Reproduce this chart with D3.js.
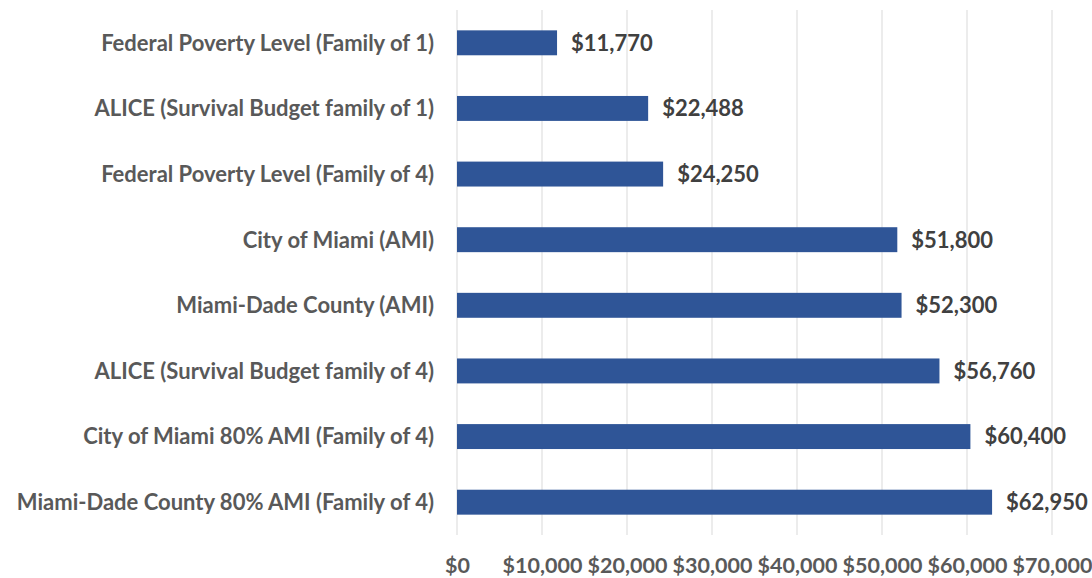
<!DOCTYPE html>
<html>
<head>
<meta charset="utf-8">
<script src="https://cdn.jsdelivr.net/npm/d3@7"></script>
<style>
  body { margin: 0; background: #fff; }
  svg text { font-family: Lato, "Open Sans", sans-serif; font-weight: bold; }
</style>
</head>
<body>
<div id="plot"></div>
<script>
// chart data
const categories = [
  'Federal Poverty Level (Family of 1)',
  'ALICE (Survival Budget family of 1)',
  'Federal Poverty Level (Family of 4)',
  'City of Miami (AMI)',
  'Miami-Dade County (AMI)',
  'ALICE (Survival Budget family of 4)',
  'City of Miami 80% AMI (Family of 4)',
  'Miami-Dade County 80% AMI (Family of 4)'
]
const values = [11770, 22488, 24250, 51800, 52300, 56760, 60400, 62950]
const xTicks = [0, 10000, 20000, 30000, 40000, 50000, 60000, 70000]

const width = 1092
const height = 578
const plotLeft = 457, plotRight = 1052, plotTop = 10, plotBottom = 535

const svg = d3.select('#plot')
  .append('svg')
  .attr('width', width)
  .attr('height', height)

const x = d3.scaleLinear().domain([0, 70000]).range([plotLeft, plotRight])
const y = d3.scaleBand().domain(categories).range([plotTop, plotBottom]).paddingInner(0.62).paddingOuter(0.31)

const money = d => '$' + d3.format(',')(d)

// gridlines
svg.append('g')
  .selectAll('line')
  .data(xTicks)
  .enter()
  .append('line')
  .attr('x1', d => x(d)).attr('x2', d => x(d))
  .attr('y1', plotTop).attr('y2', plotBottom)
  .attr('stroke', '#d9d9d9')
  .attr('stroke-width', 1)

// bars
svg.append('g')
  .selectAll('rect')
  .data(values)
  .enter()
  .append('rect')
  .attr('x', x(0))
  .attr('y', (d, i) => y(categories[i]))
  .attr('width', d => x(d) - x(0))
  .attr('height', y.bandwidth())
  .attr('fill', '#2F5597')

// value labels
svg.append('g')
  .selectAll('text')
  .data(values)
  .enter()
  .append('text')
  .attr('x', d => x(d) + 14)
  .attr('y', (d, i) => y(categories[i]) + y.bandwidth() / 2)
  .attr('dy', '0.36em')
  .attr('fill', '#404040')
  .style('font-size', '22px')
  .text(money)

// category axis
const yAxis = svg.append('g')
  .attr('transform', 'translate(' + plotLeft + ',0)')
  .call(d3.axisLeft(y).tickSize(0).tickPadding(23))
yAxis.select('.domain').remove()
yAxis.selectAll('text')
  .attr('fill', '#595959')
  .attr('dy', '0.36em')
  .style('font-size', '22px')

// value axis
const xAxis = svg.append('g')
  .attr('transform', 'translate(0,' + plotBottom + ')')
  .call(d3.axisBottom(x).tickValues(xTicks).tickFormat(money).tickSize(0).tickPadding(23))
xAxis.select('.domain').remove()
xAxis.selectAll('text')
  .attr('fill', '#595959')
  .style('font-size', '21.5px')
</script>
</body>
</html>
